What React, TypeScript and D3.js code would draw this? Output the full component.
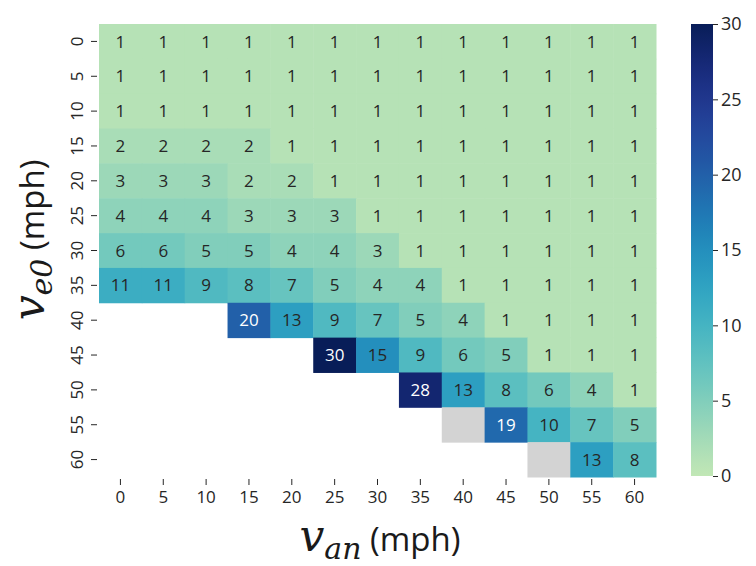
import React from "react";
import * as d3 from "d3";

// v_an (columns) and v_e0 (rows), mph
const vAn = [0, 5, 10, 15, 20, 25, 30, 35, 40, 45, 50, 55, 60];
const vE0 = [0, 5, 10, 15, 20, 25, 30, 35, 40, 45, 50, 55, 60];
// null = no data (blank), -1 = masked grey cell
const rows: (number | null)[][] = [
  [1, 1, 1, 1, 1, 1, 1, 1, 1, 1, 1, 1, 1],
  [1, 1, 1, 1, 1, 1, 1, 1, 1, 1, 1, 1, 1],
  [1, 1, 1, 1, 1, 1, 1, 1, 1, 1, 1, 1, 1],
  [2, 2, 2, 2, 1, 1, 1, 1, 1, 1, 1, 1, 1],
  [3, 3, 3, 2, 2, 1, 1, 1, 1, 1, 1, 1, 1],
  [4, 4, 4, 3, 3, 3, 1, 1, 1, 1, 1, 1, 1],
  [6, 6, 5, 5, 4, 4, 3, 1, 1, 1, 1, 1, 1],
  [11, 11, 9, 8, 7, 5, 4, 4, 1, 1, 1, 1, 1],
  [null, null, null, 20, 13, 9, 7, 5, 4, 1, 1, 1, 1],
  [null, null, null, null, null, 30, 15, 9, 6, 5, 1, 1, 1],
  [null, null, null, null, null, null, null, 28, 13, 8, 6, 4, 1],
  [null, null, null, null, null, null, null, null, -1, 19, 10, 7, 5],
  [null, null, null, null, null, null, null, null, null, null, -1, 13, 8],
];
const cbarTicks = [0, 5, 10, 15, 20, 25, 30];

const W = 756, H = 566;
const left = 99, right = 656, top = 24, bottom = 477;
const cbX = 691, cbW = 22;
const FONT = "'Open Sans', sans-serif";

const color = (v: number) => d3.interpolateYlGnBu(0.25 + 0.75 * (v / 30));

const App = () => {
  const ref = React.useRef<SVGSVGElement>(null);

  React.useEffect(() => {
    const svg = d3.select(ref.current);
    svg.selectAll("*").remove();

    const x = d3.scaleBand<number>().domain(vAn).range([left, right]);
    const y = d3.scaleBand<number>().domain(vE0).range([top, bottom]);

    const cells = rows.flatMap((r, i) =>
      r.map((v, j) => ({ row: vE0[i], col: vAn[j], v }))
    ).filter(d => d.v !== null);

    const g = svg.append("g");
    g.selectAll("rect")
      .data(cells)
      .enter()
      .append("rect")
      .attr("x", d => x(d.col)!)
      .attr("y", d => y(d.row)!)
      .attr("width", x.bandwidth() + 0.5)
      .attr("height", y.bandwidth() + 0.5)
      .attr("fill", d => (d.v === -1 ? "#d3d3d3" : color(d.v as number)));

    g.selectAll("text")
      .data(cells.filter(d => d.v !== -1))
      .enter()
      .append("text")
      .text(d => d.v as number)
      .attr("x", d => x(d.col)! + x.bandwidth() / 2)
      .attr("y", d => y(d.row)! + y.bandwidth() / 2)
      .attr("dy", "0.36em")
      .style("text-anchor", "middle")
      .style("font-family", FONT)
      .style("font-size", "17px")
      .style("fill", d => {
        const c = d3.rgb(color(d.v as number));
        const lum = (0.2126 * c.r + 0.7152 * c.g + 0.0722 * c.b) / 255;
        return lum < 0.45 ? "#ffffff" : "#262626";
      });

    // x axis
    const xa = svg.append("g").attr("transform", `translate(0,${bottom + 2})`);
    xa.call(d3.axisBottom(x).tickSize(6).tickPadding(6));
    xa.select(".domain").remove();
    xa.selectAll("line").attr("stroke", "#262626");
    xa.selectAll("text")
      .style("font-family", FONT)
      .style("font-size", "17px")
      .style("fill", "#262626");

    // y axis, labels rotated
    const ya = svg.append("g").attr("transform", `translate(${left - 2},0)`);
    ya.call(d3.axisLeft(y).tickSize(6));
    ya.select(".domain").remove();
    ya.selectAll("line").attr("stroke", "#262626");
    ya.selectAll("text")
      .style("font-family", FONT)
      .style("font-size", "17px")
      .style("fill", "#262626")
      .style("text-anchor", "middle")
      .attr("transform", "rotate(-90)")
      .attr("x", 0)
      .attr("y", -20)
      .attr("dy", "0.36em");

    // colorbar
    const cy = d3.scaleLinear().domain([0, 30]).range([bottom - 1, top]);
    const defs = svg.append("defs");
    const grad = defs.append("linearGradient")
      .attr("id", "cbgrad").attr("x1", 0).attr("x2", 0).attr("y1", 1).attr("y2", 0);
    d3.range(0, 31, 1).forEach(v => {
      grad.append("stop").attr("offset", v / 30).attr("stop-color", color(v));
    });
    svg.append("rect")
      .attr("x", cbX).attr("y", top)
      .attr("width", cbW).attr("height", bottom - 1 - top)
      .attr("fill", "url(#cbgrad)");
    const ca = svg.append("g").attr("transform", `translate(${cbX + cbW},0)`);
    ca.call(d3.axisRight(cy).tickValues(cbarTicks).tickSize(5).tickPadding(3));
    ca.select(".domain").remove();
    ca.selectAll("line").attr("stroke", "#262626");
    ca.selectAll("text")
      .style("font-family", FONT)
      .style("font-size", "18px")
      .style("fill", "#262626");

    // axis titles
    const xl = svg.append("text")
      .attr("x", 380).attr("y", 551)
      .style("text-anchor", "middle")
      .style("fill", "#1a1a1a");
    xl.append("tspan").text("v")
      .style("font-family", "'DejaVu Serif', serif").style("font-style", "italic").style("font-size", "44px");
    xl.append("tspan").text("an").attr("dy", 8)
      .style("font-family", "'DejaVu Serif', serif").style("font-style", "italic").style("font-size", "30px");
    xl.append("tspan").text(" (mph)").attr("dy", -8)
      .style("font-family", FONT).style("font-size", "33px");

    const yl = svg.append("text")
      .attr("transform", "translate(44,240) rotate(-90)")
      .style("text-anchor", "middle")
      .style("fill", "#1a1a1a");
    yl.append("tspan").text("v")
      .style("font-family", "'DejaVu Serif', serif").style("font-style", "italic").style("font-size", "44px");
    yl.append("tspan").text("e0").attr("dy", 8)
      .style("font-family", "'DejaVu Serif', serif").style("font-style", "italic").style("font-size", "30px");
    yl.append("tspan").text(" (mph)").attr("dy", -8)
      .style("font-family", FONT).style("font-size", "33px");
  }, []);

  return (
    <svg
      ref={ref}
      width={W}
      height={H}
      style={{ position: "absolute", left: 0, top: 0, background: "#fff" }}
    />
  );
};

export default App;
